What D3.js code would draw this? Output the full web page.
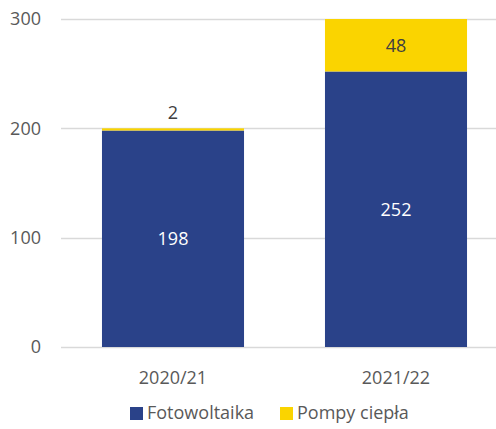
<!DOCTYPE html>
<html>
<head>
<meta charset="utf-8">
<script src="https://cdn.jsdelivr.net/npm/d3@7"></script>
<style>
  body { margin: 0; background: #fff; }
  text { font-family: "Open Sans", sans-serif; }
</style>
</head>
<body>
<div id="chart"></div>
<script>
// Data
var categories = ["2020/21", "2021/22"];
var fotowoltaika = [198, 252];
var pompyCiepla = [2, 48];
var seriesNames = ["Fotowoltaika", "Pompy ciepła"];
var yTicks = [0, 100, 200, 300];

var width = 496, height = 429;
var colors = ["#2A4289", "#FAD400"];

var svg = d3.select("#chart")
    .append("svg")
    .attr("width", width)
    .attr("height", height);

// Scales
var x = d3.scaleBand()
    .domain(categories)
    .range([61.5, 507.5])
    .paddingInner(0.363)
    .paddingOuter(0.1815);

var y = d3.scaleLinear()
    .domain([0, 300])
    .range([347, 19]);

// Gridlines
svg.append("g")
    .selectAll("line")
    .data(yTicks)
    .enter()
    .append("line")
    .attr("x1", 61)
    .attr("x2", 510)
    .attr("y1", function(d) { return Math.round(y(d)) + 0.5; })
    .attr("y2", function(d) { return Math.round(y(d)) + 0.5; })
    .attr("stroke", "#d9d9d9")
    .attr("stroke-width", 1.5);

// Y axis labels
svg.append("g")
    .selectAll("text")
    .data(yTicks)
    .enter()
    .append("text")
    .attr("x", 41)
    .attr("y", function(d) { return y(d); })
    .attr("dy", "0.35em")
    .attr("text-anchor", "end")
    .attr("font-size", 18)
    .attr("fill", "#595959")
    .text(function(d) { return d; });

// Stacked data
var rows = categories.map(function(c, i) {
    return { cat: c, Fotowoltaika: fotowoltaika[i], "Pompy ciepła": pompyCiepla[i] };
});
var stacked = d3.stack().keys(seriesNames)(rows);

var layers = svg.append("g")
    .selectAll("g")
    .data(stacked)
    .enter()
    .append("g")
    .attr("fill", function(d, i) { return colors[i]; });

layers.selectAll("rect")
    .data(function(d) { return d; })
    .enter()
    .append("rect")
    .attr("x", function(d) { return x(d.data.cat); })
    .attr("width", x.bandwidth())
    .attr("y", function(d) { return y(d[1]); })
    .attr("height", function(d) { return y(d[0]) - y(d[1]); });

// Value labels
layers.each(function(layer, li) {
    d3.select(this).selectAll("text")
        .data(layer)
        .enter()
        .append("text")
        .attr("x", function(d) { return x(d.data.cat) + x.bandwidth() / 2; })
        .attr("y", function(d) {
            var v = d[1] - d[0];
            // small segments get the label above the bar
            if (y(d[0]) - y(d[1]) < 20) return y(d[1]) - 16;
            return (y(d[0]) + y(d[1])) / 2;
        })
        .attr("dy", "0.35em")
        .attr("text-anchor", "middle")
        .attr("font-size", 18)
        .attr("fill", li === 0 ? "#ffffff" : "#404040")
        .text(function(d) { return d[1] - d[0]; });
});

// X axis labels
svg.append("g")
    .selectAll("text")
    .data(categories)
    .enter()
    .append("text")
    .attr("x", function(d) { return x(d) + x.bandwidth() / 2; })
    .attr("y", 378)
    .attr("dy", "0.35em")
    .attr("text-anchor", "middle")
    .attr("font-size", 18)
    .attr("fill", "#595959")
    .text(function(d) { return d; });

// Legend
var legendX = [130, 280];
var legend = svg.append("g")
    .selectAll("g")
    .data(seriesNames)
    .enter()
    .append("g")
    .attr("transform", function(d, i) { return "translate(" + legendX[i] + ",413)"; });

legend.append("rect")
    .attr("x", 0)
    .attr("y", -6)
    .attr("width", 13)
    .attr("height", 13)
    .attr("fill", function(d, i) { return colors[i]; });

legend.append("text")
    .attr("x", 17)
    .attr("y", 0)
    .attr("dy", "0.35em")
    .attr("font-size", 18)
    .attr("fill", "#595959")
    .text(function(d) { return d; });
</script>
</body>
</html>
